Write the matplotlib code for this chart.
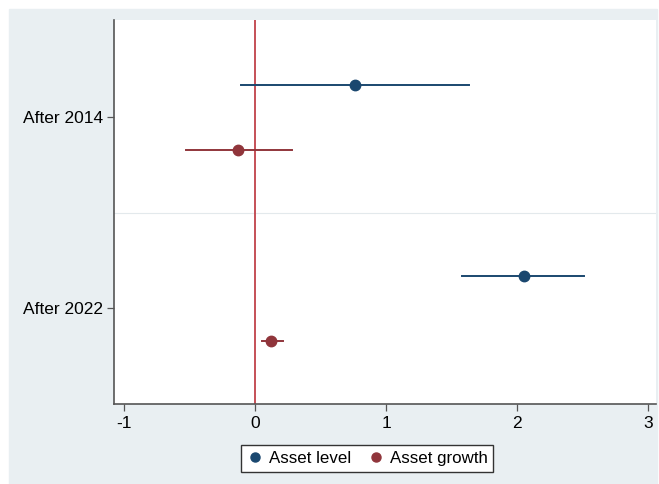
import matplotlib
matplotlib.use("Agg")
import matplotlib.pyplot as plt
from matplotlib.patches import Rectangle

# Coefficients and confidence intervals
groups = ["After 2014", "After 2022"]
level_est = [0.76, 2.05]
level_lo = [-0.11, 1.58]
level_hi = [1.63, 2.51]
growth_est = [-0.13, 0.12]
growth_lo = [-0.53, 0.05]
growth_hi = [0.28, 0.21]
xticks = [-1, 0, 1, 2, 3]

navy = "#1a476f"
maroon = "#90353b"
bg = "#e9eff2"

plt.rcParams["font.family"] = ["Liberation Sans", "DejaVu Sans"]

fig = plt.figure(figsize=(6.59, 4.84), dpi=100)
fig.add_artist(Rectangle((9 / 659, 0), 648 / 659, 475 / 484,
                         transform=fig.transFigure, color=bg, zorder=-10))

ax = fig.add_axes([114 / 659, 80 / 484, 542 / 659, 384 / 484])
ax.set_zorder(1)
ax.set_facecolor("white")

ypos = [i + 1 for i in range(len(groups))]
off = 0.168
for i, y in enumerate(ypos):
    ax.plot([level_lo[i], level_hi[i]], [y - off, y - off], color=navy, lw=1.4, zorder=3)
    ax.plot(level_est[i], y - off, "o", color=navy, ms=7.5, zorder=4)
    ax.plot([growth_lo[i], growth_hi[i]], [y + off, y + off], color=maroon, lw=1.4, zorder=3)
    ax.plot(growth_est[i], y + off, "o", color=maroon, ms=7.5, zorder=4)

ax.axhline(1.5, color="#e3e9ec", lw=0.8, zorder=1)
ax.axvline(0, color="#c0424a", lw=1.3, zorder=2)

ax.set_xlim(-1.076, 3.06)
ax.set_ylim(2.5, 0.49)
ax.set_xticks(xticks)
ax.set_xticklabels([str(t) for t in xticks], fontsize=12.5)
ax.set_yticks(ypos)
ax.set_yticklabels(groups, fontsize=12.5)
ax.tick_params(direction="out", length=5, width=0.9, color="#555555", pad=3)
ax.tick_params(axis="x", pad=4)

for s in ["top", "right"]:
    ax.spines[s].set_visible(False)
for s in ["left", "bottom"]:
    ax.spines[s].set_color("#555555")
    ax.spines[s].set_linewidth(1.2)

h1, = ax.plot([], [], "o", color=navy, ms=6.5, label="Asset level")
h2, = ax.plot([], [], "o", color=maroon, ms=6.5, label="Asset growth")
leg = fig.legend(handles=[h1, h2], loc="center", bbox_to_anchor=(367 / 659, 25.5 / 484),
                 ncol=2, fontsize=12.2, frameon=True, fancybox=False, handletextpad=0.3,
                 columnspacing=1.0, handlelength=1.0, borderpad=0.35)
leg.get_frame().set_facecolor("white")
leg.get_frame().set_alpha(1)
leg.get_frame().set_edgecolor("#333333")
leg.get_frame().set_linewidth(1.0)

fig.savefig("out.png", dpi=100, facecolor="white")
